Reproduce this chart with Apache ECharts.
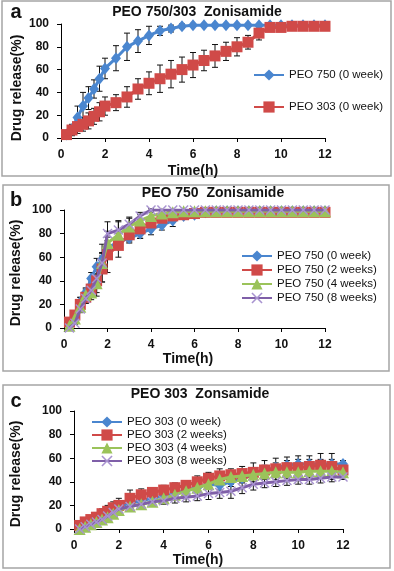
<!DOCTYPE html>
<html>
<head>
<meta charset="utf-8">
<script src="https://cdn.jsdelivr.net/npm/echarts@6/dist/echarts.min.js"></script>
<style>
html, body { margin: 0; padding: 0; background: #fff; }
#cn { width: 394px; height: 571px; }
</style>
</head>
<body>
<div id="cn"></div>
<script>
'use strict';

// sampling times (h), shared by every curve
const TIME = [0.25, 0.5, 0.75, 1, 1.25, 1.5, 1.75, 2, 2.5, 3, 3.5, 4, 4.5, 5, 5.5, 6, 6.5, 7, 7.5, 8, 8.5, 9, 9.5, 10, 10.5, 11, 11.5, 12];
const X_TICKS = [0, 12, 2];
const Y_TICKS = [0, 100, 20];

// a: PEO 750/303
const A_NAMES = ['PEO 750 (0 week)', 'PEO 303 (0 week)'];
const A_750 = [3, 8, 18, 28, 35, 43, 52, 61, 70, 80, 85, 90, 94, 96, 98, 99, 99, 99, 99, 99, 99, 99, 99, 99, 99, 99, 99, 99];
const A_750_ERR = [0, 0, 10, 12, 10, 8, 11, 9, 11, 12, 10, 8, 4, 3, 2, 0, 0, 0, 0, 0, 0, 0, 0, 0, 0, 0, 0, 0];
const A_303 = [3, 7, 10, 12, 15, 19, 23, 28, 31, 36, 43, 48, 52, 56, 60, 64, 68, 72, 76, 80, 84, 92, 97, 97, 98, 98, 98, 98];
const A_303_ERR = [0, 5, 6, 6, 7, 7, 8, 8, 7, 9, 9, 10, 12, 12, 11, 11, 9, 10, 8, 8, 6, 6, 0, 0, 0, 0, 0, 0];

// b: PEO 750 stability
const B_NAMES = ['PEO 750 (0 week)', 'PEO 750 (2 weeks)', 'PEO 750 (4 weeks)', 'PEO 750 (8 weeks)'];
const B_0 = [3, 10, 22, 30, 42, 52, 58, 68, 73, 76, 80, 84, 87, 91, 95, 96, 98, 99, 99, 99, 99, 99, 99, 99, 99, 99, 99, 99];
const B_0_ERR = [0, 3, 4, 4, 5, 7, 6, 6, 5, 4, 4, 5, 4, 5, 3, 2, 1, 0, 0, 0, 0, 0, 0, 0, 0, 0, 0, 0];
const B_2 = [5, 11, 20, 26, 33, 40, 50, 62, 70, 79, 84, 89, 93, 95, 96, 97, 98, 98, 98, 98, 98, 98, 98, 98, 98, 98, 98, 98];
const B_2_ERR = [2, 3, 6, 5, 6, 13, 11, 15, 10, 6, 8, 5, 4, 3, 2, 1, 0, 0, 0, 0, 0, 0, 0, 0, 0, 0, 0, 0];
const B_4 = [2, 8, 18, 28, 30, 38, 55, 72, 79, 86, 91, 95, 97, 98, 99, 99, 99, 99, 99, 99, 99, 99, 99, 99, 99, 99, 99, 99];
const B_4_ERR = [0, 2, 4, 5, 6, 8, 16, 10, 11, 8, 5, 3, 2, 1, 0, 0, 0, 0, 0, 0, 0, 0, 0, 0, 0, 0, 0, 0];
const B_8 = [0, 4, 16, 25, 32, 42, 55, 80, 83, 88, 95, 100, 100, 100, 100, 100, 100, 100, 100, 100, 100, 100, 100, 100, 100, 100, 100, 100];
const B_8_ERR = [0, 1, 3, 4, 5, 6, 8, 10, 8, 5, 3, 1, 0, 0, 0, 0, 0, 0, 0, 0, 0, 0, 0, 0, 0, 0, 0, 0];

// c: PEO 303 stability
const C_NAMES = ['PEO 303 (0 week)', 'PEO 303 (2 weeks)', 'PEO 303 (4 weeks)', 'PEO 303 (8 weeks)'];
const C_0 = [2, 5, 7, 9, 11, 14, 16, 19, 22, 24, 26, 28, 30, 33, 35, 38, 37, 40, 43, 46, 50, 52, 54, 55, 55, 55, 55, 55];
const C_0_ERR = [0, 1, 2, 2, 2, 3, 3, 3, 3, 3, 3, 3, 4, 4, 4, 4, 4, 4, 4, 4, 4, 4, 4, 4, 4, 4, 4, 3];
const C_2 = [3, 6, 8, 10, 13, 15, 18, 20, 26, 29, 31, 33, 35, 37, 40, 43, 45, 46, 47, 48, 50, 51, 52, 52, 53, 54, 53, 50];
const C_2_ERR = [2, 3, 3, 4, 4, 5, 5, 6, 7, 5, 4, 4, 4, 4, 5, 5, 6, 5, 6, 8, 8, 9, 9, 10, 9, 10, 11, 0];
const C_4 = [0, 2, 4, 6, 8, 10, 13, 16, 19, 21, 23, 26, 29, 32, 35, 38, 42, 44, 45, 46, 47, 48, 48, 48, 49, 49, 49, 48];
const C_4_ERR = [0, 1, 2, 2, 2, 3, 3, 3, 3, 3, 3, 3, 3, 4, 4, 4, 4, 4, 4, 4, 4, 4, 4, 4, 4, 4, 4, 0];
const C_8 = [0, 2, 4, 6, 8, 11, 14, 17, 19, 21, 23, 24, 26, 27, 28, 30, 31, 32, 35, 38, 39, 40, 41, 42, 42, 43, 44, 44];
const C_8_ERR = [0, 1, 2, 2, 2, 3, 3, 3, 3, 3, 3, 3, 4, 4, 4, 5, 5, 6, 5, 5, 4, 4, 4, 4, 4, 4, 4, 2];

const BLUE = '#4a86cf';
const RED = '#d04a48';
const GREEN = '#9bc35a';
const PURPLE = '#7f5fa8';
const PURPLE_MK = '#a893d0';
const SYM_X = 'path://M1,0L5,4L9,0L10,1L6,5L10,9L9,10L5,6L1,10L0,9L4,5L0,1Z';
const FONT = '"Liberation Sans", Arial, sans-serif';

const chart = echarts.init(document.getElementById('cn'));

const pairs = (arr) => TIME.map((t, i) => [t, arr[i]]);
const triples = (arr, err) => TIME.map((t, i) => [t, arr[i], err[i]]);

const errBar = (params, api) => {
    const x = api.value(0);
    const y = api.value(1);
    const e = api.value(2);
    if (!e) return null;
    const hi = api.coord([x, y + e]);
    const lo = api.coord([x, y - e]);
    const w = 3;
    const st = { stroke: '#111', lineWidth: 1 };
    return {
        type: 'group',
        children: [
            { type: 'line', shape: { x1: hi[0], y1: hi[1], x2: lo[0], y2: lo[1] }, style: st },
            { type: 'line', shape: { x1: hi[0] - w, y1: hi[1], x2: hi[0] + w, y2: hi[1] }, style: st },
            { type: 'line', shape: { x1: lo[0] - w, y1: lo[1], x2: lo[0] + w, y2: lo[1] }, style: st }
        ]
    };
};

const lineS = (name, arr, color, mk, symbol, size, idx, z) => ({
    name: name,
    type: 'line',
    xAxisIndex: idx,
    yAxisIndex: idx,
    data: pairs(arr),
    symbol: symbol,
    symbolSize: size,
    showAllSymbol: true,
    lineStyle: { color: color, width: 3 },
    itemStyle: { color: mk, opacity: 1 },
    z: z,
    animation: false
});

const errS = (arr, err, idx, z) => ({
    type: 'custom',
    xAxisIndex: idx,
    yAxisIndex: idx,
    data: triples(arr, err),
    encode: { x: 0, y: 1 },
    renderItem: errBar,
    z: z,
    animation: false
});

const gridPos = [
    { left: 61, top: 24, width: 264, height: 114 },
    { left: 64, top: 210, width: 261, height: 118 },
    { left: 74, top: 411, width: 269, height: 118 }
];

const axStyle = {
    axisLine: { lineStyle: { color: '#000', width: 1 } },
    axisTick: { lineStyle: { color: '#000' }, length: 4 },
    splitLine: { show: false },
    axisLabel: { color: '#111', fontSize: 12, fontWeight: 'bold', fontFamily: FONT }
};

const xAxes = gridPos.map((g, i) => Object.assign({
    type: 'value', gridIndex: i, min: X_TICKS[0], max: X_TICKS[1], interval: X_TICKS[2]
}, axStyle, { axisLabel: Object.assign({}, axStyle.axisLabel, { margin: 11 }) }));

const yAxes = gridPos.map((g, i) => Object.assign({
    type: 'value', gridIndex: i, min: Y_TICKS[0], max: Y_TICKS[1], interval: Y_TICKS[2]
}, axStyle, { axisLine: { show: true, lineStyle: { color: '#000' } }, axisLabel: Object.assign({}, axStyle.axisLabel, { margin: 12 }) }));

const legendText = { fontSize: 11.5, color: '#111', fontFamily: FONT, fontWeight: 500 };
const strip = (n) => n.split('|')[1];

const txt = (text, x, y, size, rot) => ({
    type: 'text', x: x, y: y, rotation: rot || 0,
    style: { text: text, font: `bold ${size}px ${FONT}`, fill: '#111', align: 'center', verticalAlign: 'middle' },
    z: 10
});
const box = (x, y, w, h) => ({
    type: 'rect', shape: { x: x, y: y, width: w, height: h },
    style: { fill: null, stroke: '#a5a5a5', lineWidth: 1.5 }, z: 0
});

const option = {
    backgroundColor: '#fff',
    animation: false,
    grid: gridPos,
    xAxis: xAxes,
    yAxis: yAxes,
    legend: [{
            orient: 'vertical', left: 248, top: 64, itemGap: 20, itemWidth: 30, itemHeight: 14,
            data: A_NAMES.map(n => 'a|' + n), formatter: strip, textStyle: legendText, selectedMode: false
        },
        {
            orient: 'vertical', left: 236, top: 245, itemGap: 2, itemWidth: 30, itemHeight: 14,
            data: B_NAMES.map(n => 'b|' + n), formatter: strip, textStyle: legendText, selectedMode: false
        },
        {
            orient: 'vertical', left: 86, top: 411, itemGap: 1, itemWidth: 30, itemHeight: 14,
            data: C_NAMES.map(n => 'c|' + n), formatter: strip, textStyle: legendText, selectedMode: false
        }
    ],
    graphic: [
        box(2, 1, 389, 175),
        box(3, 185, 386, 186),
        box(3, 385, 387, 183),
        txt('a', 16, 12, 20),
        txt('b', 16, 200, 20),
        txt('c', 16, 401, 20),
        txt('PEO 750/303  Zonisamide', 197, 12, 14),
        txt('PEO 750  Zonisamide', 213, 193, 14),
        txt('PEO 303  Zonsamide', 200, 394, 14),
        txt('Drug release(%)', 17, 88, 14, Math.PI / 2),
        txt('Drug release(%)', 16, 273, 14, Math.PI / 2),
        txt('Drug release(%)', 16, 474, 14, Math.PI / 2),
        txt('Time(h)', 193, 171, 14),
        txt('Time(h)', 188, 359, 14),
        txt('Time(h)', 198, 560, 14)
    ],
    series: [
        errS(A_750, A_750_ERR, 0, 1),
        errS(A_303, A_303_ERR, 0, 1),
        lineS('a|' + A_NAMES[0], A_750, BLUE, BLUE, 'diamond', [10, 12], 0, 2),
        lineS('a|' + A_NAMES[1], A_303, RED, RED, 'rect', 11, 0, 3),

        errS(B_0, B_0_ERR, 1, 1),
        errS(B_2, B_2_ERR, 1, 1),
        errS(B_4, B_4_ERR, 1, 1),
        errS(B_8, B_8_ERR, 1, 1),
        lineS('b|' + B_NAMES[0], B_0, BLUE, BLUE, 'diamond', [10, 12], 1, 2),
        lineS('b|' + B_NAMES[1], B_2, RED, RED, 'rect', 11, 1, 3),
        lineS('b|' + B_NAMES[2], B_4, GREEN, GREEN, 'triangle', 12, 1, 4),
        lineS('b|' + B_NAMES[3], B_8, PURPLE, PURPLE_MK, SYM_X, 10, 1, 5),

        errS(C_0, C_0_ERR, 2, 1),
        errS(C_2, C_2_ERR, 2, 1),
        errS(C_4, C_4_ERR, 2, 1),
        errS(C_8, C_8_ERR, 2, 1),
        lineS('c|' + C_NAMES[0], C_0, BLUE, BLUE, 'diamond', [10, 12], 2, 2),
        lineS('c|' + C_NAMES[1], C_2, RED, RED, 'rect', 11, 2, 3),
        lineS('c|' + C_NAMES[2], C_4, GREEN, GREEN, 'triangle', 12, 2, 4),
        lineS('c|' + C_NAMES[3], C_8, PURPLE, PURPLE_MK, SYM_X, 10, 2, 5)
    ]
};

chart.setOption(option);
</script>
</body>
</html>
